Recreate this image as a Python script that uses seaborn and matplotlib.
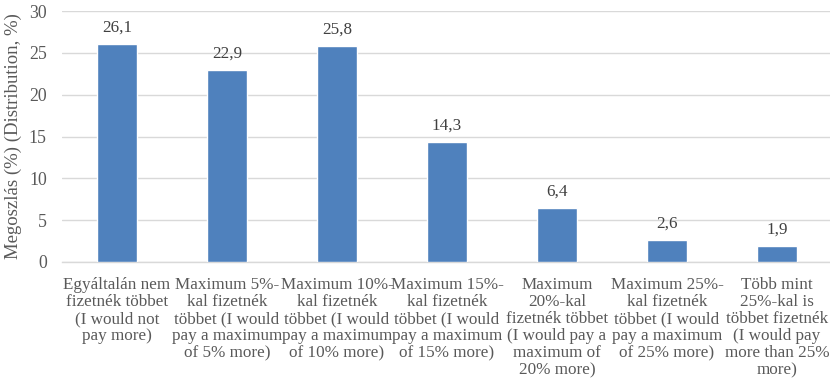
import matplotlib
matplotlib.use("Agg")
import matplotlib.pyplot as plt
import seaborn as sns
import pandas as pd

categories = [
    "Egyáltalán nem\nfizetnék többet\n(I would not\npay more)",
    "Maximum 5%-\nkal fizetnék\ntöbbet (I would\npay a maximum\nof 5% more)",
    "Maximum 10%-\nkal fizetnék\ntöbbet (I would\npay a maximum\nof 10% more)",
    "Maximum 15%-\nkal fizetnék\ntöbbet (I would\npay a maximum\nof 15% more)",
    "Maximum\n20%-kal\nfizetnék többet\n(I would pay a\nmaximum of\n20% more)",
    "Maximum 25%-\nkal fizetnék\ntöbbet (I would\npay a maximum\nof 25% more)",
    "Több mint\n25%-kal is\ntöbbet fizetnék\n(I would pay\nmore than 25%\nmore)",
]
values = [26.1, 22.9, 25.8, 14.3, 6.4, 2.6, 1.9]
y_ticks = [0, 5, 10, 15, 20, 25, 30]
y_label = "Megoszlás (%) (Distribution, %)"

sns.set_theme(style="white")
plt.rcParams["font.family"] = ["Liberation Serif"]

text_color = "#595959"
bar_color = "#4f81bd"
fs = 12.3

df = pd.DataFrame({"cat": categories, "val": values})

fig = plt.figure(figsize=(8.3, 3.79), dpi=100)
ax = fig.add_axes([62 / 830, 1 - 262 / 379, 770 / 830, (262 - 11) / 379])

sns.barplot(data=df, x="cat", y="val", color=bar_color, width=0.364,
            saturation=1, ax=ax, zorder=3)

ax.set_ylim(0, 30)
ax.set_yticks(y_ticks)
ax.set_yticklabels([str(t) for t in y_ticks], fontsize=fs + 0.5, color=text_color)
ax.yaxis.grid(True, color="#d9d9d9", linewidth=1, zorder=0)
ax.set_axisbelow(True)
ax.tick_params(axis="y", length=0, pad=11)
ax.tick_params(axis="x", length=0, pad=11)
ax.set_xticks(range(len(categories)))
ax.set_xticklabels(categories, fontsize=fs, color=text_color, linespacing=1.08)
ax.set_xlabel("")
ax.set_ylabel(y_label, fontsize=13.5, color=text_color, labelpad=5)

for s in ["top", "right", "left"]:
    ax.spines[s].set_visible(False)
ax.spines["bottom"].set_color("#d9d9d9")
ax.spines["bottom"].set_linewidth(1)

for i, v in enumerate(values):
    ax.annotate(f"{v:.1f}".replace(".", ","), (i, v), xytext=(0, 6),
                textcoords="offset points", ha="center", va="bottom",
                fontsize=fs, color="#404040")

fig.savefig("out.png", dpi=100)
